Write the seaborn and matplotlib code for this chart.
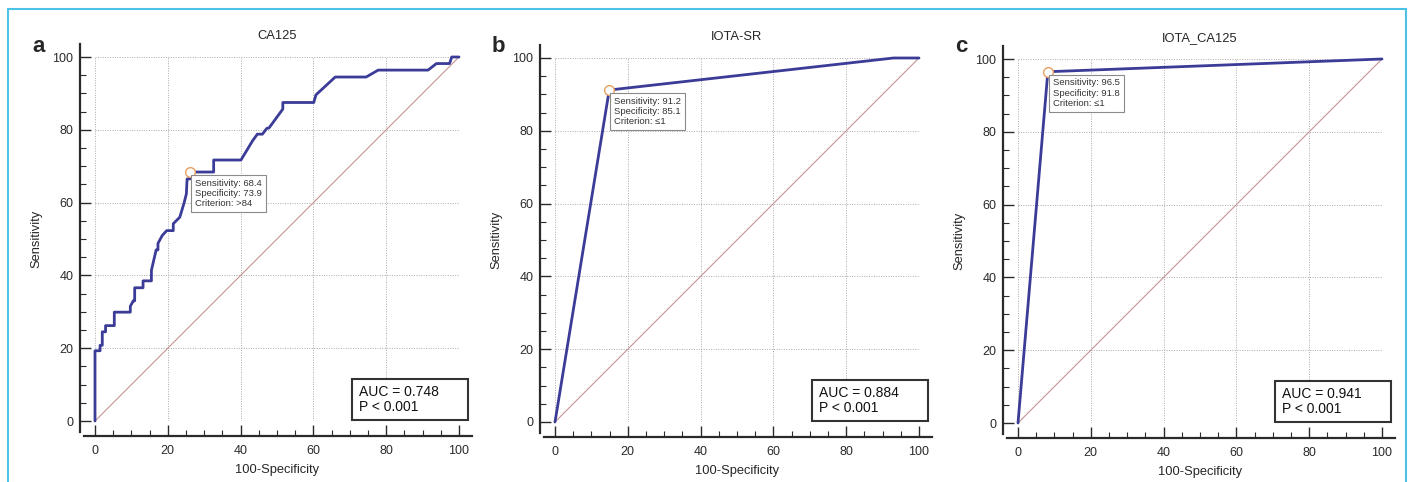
import matplotlib
matplotlib.use('Agg')
import matplotlib.pyplot as plt
import matplotlib.patches as mpatches
from matplotlib.ticker import MultipleLocator
import seaborn as sns

# ROC points (100-specificity, sensitivity)
ca125_fpr = [0, 0, 1.4, 1.4, 2.0, 2.0, 2.9, 2.9, 5.3, 5.3, 9.7, 9.7, 10.5, 10.9, 10.9,
             13.2, 13.2, 15.5, 15.5, 16.8, 17.3, 17.3, 18.5, 19.7, 21.5, 21.5, 23.3,
             24.5, 25.1, 25.3, 26.1, 26.1, 32.6, 32.6, 40.1, 43.3, 44.6, 46.0, 47.2,
             47.8, 51.6, 51.6, 60.1, 60.7, 66.0, 74.5, 77.8, 91.5, 93.8, 97.4, 98.0, 100]
ca125_tpr = [0, 19.3, 19.3, 20.8, 20.8, 24.5, 24.5, 26.2, 26.2, 29.9, 29.9, 31.5, 33.0,
             33.0, 36.6, 36.6, 38.5, 38.5, 41.4, 47.0, 47.0, 48.8, 51.0, 52.3, 52.3,
             54.2, 56.0, 60.0, 62.4, 66.5, 66.5, 68.4, 68.4, 71.7, 71.7, 77.0, 78.8,
             78.8, 80.4, 80.5, 85.7, 87.5, 87.5, 89.6, 94.5, 94.5, 96.4, 96.4, 98.2,
             98.2, 100, 100]
iotasr_fpr = [0, 14.9, 93.0, 100]
iotasr_tpr = [0, 91.2, 100, 100]
combo_fpr = [0, 8.2, 100]
combo_tpr = [0, 96.5, 100]

titles = ['CA125', 'IOTA-SR', 'IOTA_CA125']
letters = ['a', 'b', 'c']
cut_sens = [68.4, 91.2, 96.5]
cut_spec = [73.9, 85.1, 91.8]
criteria = ['>84', '\u22641', '\u22641']
auc_values = ['0.748', '0.884', '0.941']
p_values = ['P < 0.001', 'P < 0.001', 'P < 0.001']

curves = [(ca125_fpr, ca125_tpr), (iotasr_fpr, iotasr_tpr), (combo_fpr, combo_tpr)]

sns.set_style('white')
plt.rcParams['font.family'] = ['Liberation Sans', 'DejaVu Sans']

W, H = 1410, 482
fig = plt.figure(figsize=(W / 100, H / 100), dpi=100)

# blue frame around the whole figure
frame = mpatches.Rectangle((8 / W, -0.05), (1406 - 8) / W, 1.05 - 9 / H,
                           transform=fig.transFigure, fill=False,
                           edgecolor='#4cc3e6', linewidth=1.5)
fig.patches.append(frame)

lefts = [95, 555, 1018]
tops = [57, 58, 59]
curve_col = '#3b3b98'
diag_col = '#c49595'
dark = '#2a2a2a'

for i in range(3):
    x0 = lefts[i]
    ax = fig.add_axes([x0 / W, 1 - (tops[i] + 364) / H, 364 / W, 364 / H])
    fpr, tpr = curves[i]
    ax.plot([0, 100], [0, 100], color=diag_col, lw=0.8, clip_on=False, zorder=2)
    sns.lineplot(x=fpr, y=tpr, sort=False, estimator=None, color=curve_col,
                 lw=2, ax=ax, clip_on=False, zorder=3)
    ax.set_xlim(0, 100)
    ax.set_ylim(0, 100)

    # cut-off marker and label
    px = 100 - cut_spec[i]
    ax.plot(px, cut_sens[i], 'o', mfc='white', mec='#e8a060', ms=7, mew=1,
            clip_on=False, zorder=4)
    ax.annotate('Sensitivity: %.1f\nSpecificity: %.1f\nCriterion: %s'
                % (cut_sens[i], cut_spec[i], criteria[i]),
                xy=(px, cut_sens[i]), xytext=(3.6, -4.8), textcoords='offset points',
                ha='left', va='top', fontsize=6.8, color='#333333', linespacing=1.2,
                family=['Liberation Sans', 'DejaVu Sans'],
                bbox=dict(boxstyle='square,pad=0.4', fc='white', ec='#8a8a8a', lw=0.8),
                zorder=5)

    # AUC box (fixed size, lower right corner)
    ax.add_patch(mpatches.Rectangle((70.6, 0.2), 31.8, 11.3, fc='white', ec='#333333',
                                    lw=1.5, clip_on=False, zorder=5))
    ax.text(72.6, 6.0, 'AUC = %s\n%s' % (auc_values[i], p_values[i]),
            fontsize=10, ha='left', va='center', linespacing=1.1, color='#111111',
            zorder=6)

    ax.xaxis.set_major_locator(MultipleLocator(20))
    ax.yaxis.set_major_locator(MultipleLocator(20))
    ax.xaxis.set_minor_locator(MultipleLocator(5))
    ax.yaxis.set_minor_locator(MultipleLocator(5))
    ax.grid(True, which='major', color='#aaaaaa', linestyle=(0, (1, 1.5)), lw=0.7)
    ax.set_axisbelow(True)

    for s in ['top', 'right']:
        ax.spines[s].set_visible(False)
    for s in ['left', 'bottom']:
        ax.spines[s].set_position(('outward', 11))
        ax.spines[s].set_linewidth(1.6)
        ax.spines[s].set_color(dark)
        ax.spines[s].set_bounds(-3, 103.6)
    ax.tick_params(which='major', direction='in', length=8, width=1,
                   labelsize=9, colors=dark, bottom=True, left=True)
    ax.tick_params(which='minor', direction='in', length=4.5, width=0.8,
                   colors=dark, bottom=True, left=True)
    ax.tick_params(axis='x', which='major', pad=6)
    ax.tick_params(axis='y', which='major', pad=4.5)

    ax.set_title(titles[i], fontsize=9.3, pad=13)
    ax.set_xlabel('100-Specificity', fontsize=9.3, labelpad=5)
    ax.set_ylabel('Sensitivity', fontsize=9.3, labelpad=7)

    fig.text((x0 - 63) / W, 1 - 46 / H, letters[i], fontsize=16, fontweight='bold',
             ha='left', va='center')

fig.savefig('out.png', dpi=100)
